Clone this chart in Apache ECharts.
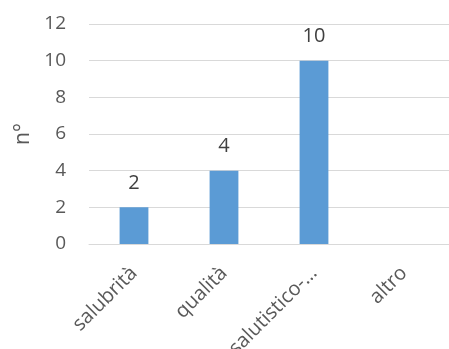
<!DOCTYPE html>
<html><head><meta charset="utf-8">
<script src="https://cdn.jsdelivr.net/npm/echarts@6/dist/echarts.min.js"></script>
<style>html,body{margin:0;padding:0;background:#fff}#c{width:449px;height:349px}</style>
</head><body><div id="c"></div>
<script>
const categories = ['salubrità', 'qualità', 'salutistico-…', 'altro'];
const values = [2, 4, 10, null];
const labels = ['2', '4', '10', ''];
const yTicks = [0, 2, 4, 6, 8, 10, 12];
const yName = 'n°';

const chart = echarts.init(document.getElementById('c'));
const font = '"Open Sans", sans-serif';
chart.setOption({
  animation: false,
  grid: {left: 89, right: 0, top: 24, bottom: 105, containLabel: false, outerBoundsMode: 'none'},
  xAxis: {
    type: 'category', data: categories,
    axisLine: {lineStyle: {color: '#D9D9D9', width: 1}},
    axisTick: {show: false},
    axisLabel: {rotate: 45, interval: 0, color: '#595959', fontSize: 20, fontFamily: font, margin: 26}
  },
  yAxis: {
    type: 'value', min: yTicks[0], max: yTicks[yTicks.length - 1], interval: 2,
    name: yName, nameLocation: 'middle', nameGap: 55, nameRotate: 90,
    nameTextStyle: {color: '#595959', fontSize: 21, fontFamily: font},
    axisLine: {show: false}, axisTick: {show: false},
    splitLine: {lineStyle: {color: '#D9D9D9', width: 1}},
    axisLabel: {color: '#595959', fontSize: 19, fontFamily: font, margin: 23}
  },
  series: [{
    type: 'bar', data: values, barWidth: '32%',
    itemStyle: {color: '#5B9BD5'},
    label: {show: true, position: 'top', distance: 14, color: '#404040', fontSize: 20, fontFamily: font,
      formatter: p => labels[p.dataIndex]}
  }]
});
</script></body></html>
